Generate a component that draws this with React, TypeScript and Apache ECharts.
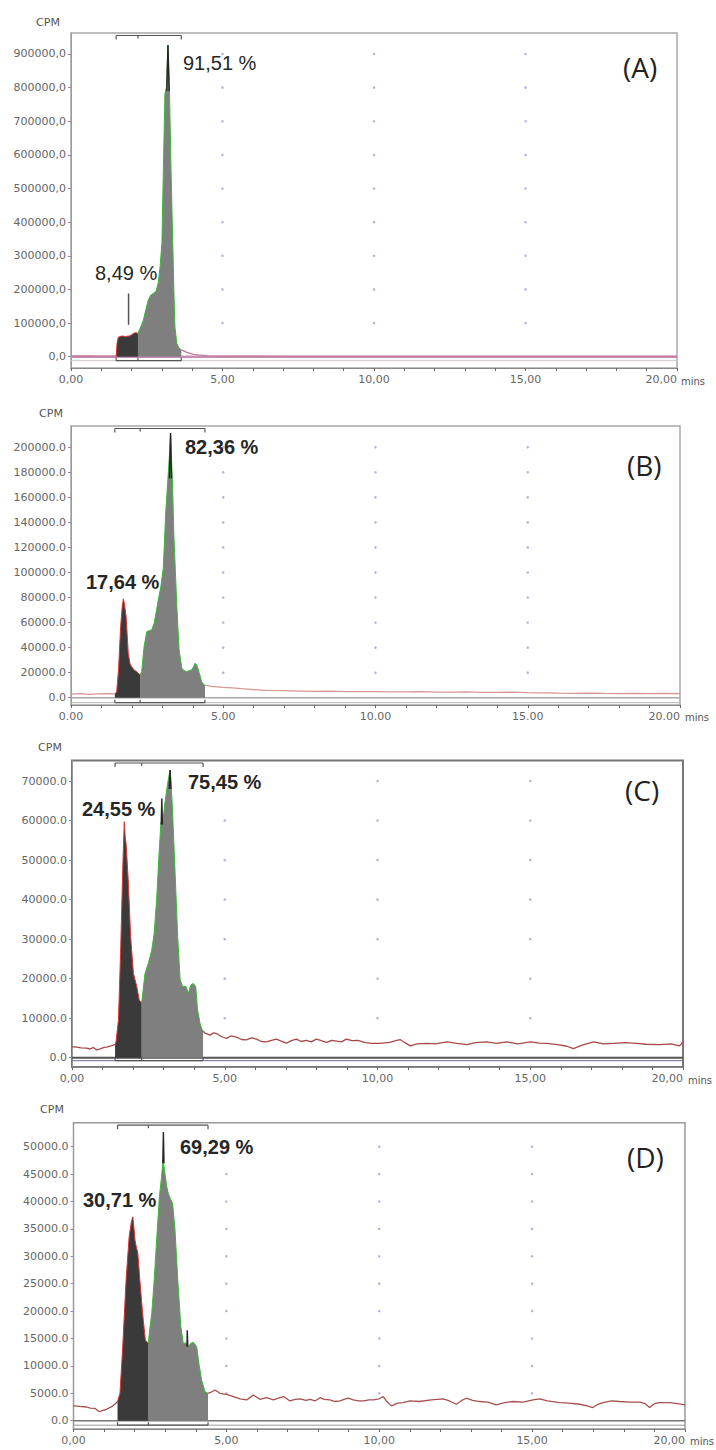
import React, { useEffect, useRef } from "react";
import * as echarts from "echarts";

type P = [number, number];

// ---------- data (time in min, CPM) ----------
const X_TICKS = [0, 5, 10, 15, 20];
const GRID_X = [5, 10, 15];
const PANEL_LETTERS = ["(A)", "(B)", "(C)", "(D)"];
const Y_UNIT = "CPM";
const X_UNIT = "mins";

// Panel A
const A_Y_TICKS = [0, 100000, 200000, 300000, 400000, 500000, 600000, 700000, 800000, 900000];
const A_PCT = ["8,49 %", "91,51 %"];
const A_BOUNDS = [1.49, 2.21, 3.64];
const A_PRE: P[] = [[0, 2000], [0.5, 2200], [1.0, 1800], [1.49, 2000]];
const A_DARK: P[] = [[1.49, 2000], [1.52, 40000], [1.56, 58000], [1.68, 61500], [1.8, 60000], [1.95, 62000], [2.02, 66000], [2.06, 70000], [2.15, 71000], [2.21, 69600]];
const A_GRAY: P[] = [[2.21, 69600], [2.3, 88000], [2.39, 109000], [2.47, 140000], [2.55, 168600], [2.63, 183000], [2.72, 188500], [2.81, 195000], [2.88, 220000], [2.94, 267600], [3.0, 337000], [3.05, 565000], [3.1, 783000], [3.15, 800000], [3.2, 926700], [3.25, 790000], [3.3, 560000], [3.36, 330000], [3.4, 180000], [3.43, 89000], [3.49, 40000], [3.55, 28000], [3.64, 20000]];
const A_POST: P[] = [[3.64, 20000], [3.7, 18000], [3.82, 13000], [4.04, 7000], [4.48, 2500], [5, 1500], [7, 1200], [10, 1000], [13, 1000], [16, 800], [20, 800]];
const A_SPIKES: P[][] = [[[3.16, 790000], [3.2, 926700], [3.24, 790000]]];
const A_POINTER: P[] = [[1.9, 95000], [1.9, 188000]];

// Panel B
const B_Y_TICKS = [0, 20000, 40000, 60000, 80000, 100000, 120000, 140000, 160000, 180000, 200000];
const B_PCT = ["17,64 %", "82,36 %"];
const B_BOUNDS = [1.44, 2.27, 4.4];
const B_PRE: P[] = [[0, 2800], [0.3, 3200], [0.6, 2600], [0.9, 3000], [1.2, 3300], [1.44, 3000]];
const B_DARK: P[] = [[1.44, 3000], [1.5, 4800], [1.56, 22000], [1.63, 56800], [1.68, 72000], [1.72, 79000], [1.76, 74000], [1.81, 64800], [1.88, 35500], [1.94, 27000], [1.99, 24800], [2.08, 22000], [2.16, 20800], [2.27, 18100]];
const B_GRAY: P[] = [[2.27, 18100], [2.32, 20800], [2.4, 40800], [2.49, 52800], [2.57, 53500], [2.65, 54100], [2.73, 59500], [2.81, 70100], [2.88, 80000], [2.95, 88700], [3.03, 103400], [3.11, 147400], [3.18, 174000], [3.24, 196700], [3.27, 211400], [3.3, 190000], [3.33, 174000], [3.38, 128700], [3.43, 100000], [3.47, 75500], [3.55, 38100], [3.64, 23500], [3.72, 21500], [3.8, 20800], [3.88, 21500], [3.96, 22100], [4.03, 25000], [4.07, 27500], [4.12, 26500], [4.15, 25000], [4.21, 20000], [4.29, 12800], [4.37, 10100], [4.4, 10000]];
const B_POST: P[] = [[4.4, 10000], [4.6, 9000], [4.8, 8600], [5.0, 8200], [5.3, 7800], [5.6, 7200], [6.0, 6500], [6.4, 5800], [7, 5600], [7.5, 5300], [8, 5000], [8.5, 5200], [9, 4800], [9.5, 4900], [10, 4800], [10.5, 4700], [11, 4600], [11.5, 4800], [12, 4500], [12.5, 4400], [13, 4700], [13.5, 4300], [14, 4200], [14.5, 4400], [15, 4000], [15.5, 3800], [16, 3600], [16.5, 3500], [17, 3700], [17.5, 3400], [18, 3300], [18.5, 3500], [19, 3300], [19.5, 3400], [20, 3200]];
const B_SPIKES: P[][] = [[[3.23, 175000], [3.27, 211400], [3.3, 175000]]];

// Panel C
const C_Y_TICKS = [0, 10000, 20000, 30000, 40000, 50000, 60000, 70000];
const C_PCT = ["24,55 %", "75,45 %"];
const C_BOUNDS = [1.41, 2.28, 4.29];
const C_PRE: P[] = [[0, 2800], [0.15, 2700], [0.3, 2500], [0.48, 2400], [0.6, 2200], [0.7, 2600], [0.81, 1950], [0.95, 2300], [1.05, 2600], [1.13, 2700], [1.25, 2900], [1.35, 3200], [1.41, 3300]];
const C_DARK: P[] = [[1.41, 3300], [1.44, 4000], [1.52, 9500], [1.59, 26400], [1.66, 47500], [1.71, 59700], [1.74, 56000], [1.77, 54200], [1.84, 45000], [1.92, 30600], [2.01, 21300], [2.12, 18000], [2.2, 14600], [2.28, 13800]];
const C_GRAY: P[] = [[2.28, 13800], [2.39, 21300], [2.5, 23900], [2.61, 27200], [2.69, 31500], [2.77, 39900], [2.85, 51700], [2.91, 59300], [2.94, 60000], [2.97, 59300], [3.04, 64400], [3.13, 69400], [3.21, 72800], [3.28, 64400], [3.37, 47500], [3.46, 30600], [3.54, 19700], [3.62, 18000], [3.73, 18000], [3.81, 16300], [3.89, 18400], [3.97, 18800], [4.05, 18000], [4.11, 12100], [4.19, 8700], [4.26, 7000], [4.29, 6800]];
const C_POST: P[] = [[4.29, 6800], [4.35, 6200], [4.52, 5700], [4.64, 6300], [4.76, 6000], [4.9, 5300], [5.06, 4900], [5.2, 5500], [5.39, 5200], [5.55, 4600], [5.71, 4500], [5.87, 5000], [6.04, 4700], [6.2, 4100], [6.37, 4000], [6.53, 4400], [6.69, 4700], [6.85, 4200], [7.02, 3700], [7.18, 4300], [7.35, 4700], [7.5, 4100], [7.67, 4400], [7.83, 4000], [8.0, 4700], [8.16, 4300], [8.33, 3900], [8.5, 4400], [8.66, 4200], [8.82, 4000], [8.98, 4700], [9.17, 4300], [9.36, 4400], [9.6, 3800], [9.8, 3600], [10.08, 3600], [10.4, 3900], [10.6, 4300], [10.74, 4600], [10.9, 3800], [11.07, 3000], [11.3, 3500], [11.62, 3600], [11.9, 3500], [12.27, 4000], [12.6, 3600], [12.93, 3300], [13.2, 3800], [13.58, 4000], [13.9, 3600], [14.23, 4000], [14.6, 3500], [15.0, 4000], [15.3, 3700], [15.54, 3600], [15.9, 3300], [16.2, 2900], [16.41, 2300], [16.7, 3200], [17.07, 4000], [17.4, 3500], [17.72, 3600], [18.1, 3800], [18.48, 3600], [18.8, 3400], [19.24, 3300], [19.6, 3500], [19.89, 3000], [20, 4000]];
const C_SPIKES: P[][] = [[[2.92, 59000], [2.94, 65600], [2.96, 59000]], [[3.18, 68000], [3.21, 72800], [3.24, 68000]]];

// Panel D
const D_Y_TICKS = [0, 5000, 10000, 15000, 20000, 25000, 30000, 35000, 40000, 45000, 50000];
const D_PCT = ["30,71 %", "69,29 %"];
const D_BOUNDS = [1.44, 2.45, 4.4];
const D_PRE: P[] = [[0, 2700], [0.2, 2600], [0.43, 2500], [0.55, 2300], [0.7, 2260], [0.8, 1800], [0.87, 1640], [0.95, 1900], [1.03, 1950], [1.15, 2300], [1.25, 2560], [1.35, 3000], [1.44, 3500]];
const D_DARK: P[] = [[1.44, 3500], [1.52, 5000], [1.61, 13500], [1.72, 25700], [1.82, 33600], [1.9, 36500], [1.94, 37200], [1.98, 35000], [2.01, 33000], [2.06, 31500], [2.1, 30800], [2.17, 25700], [2.26, 19600], [2.35, 14700], [2.45, 14100]];
const D_GRAY: P[] = [[2.45, 14100], [2.48, 16000], [2.56, 19600], [2.64, 25700], [2.72, 33000], [2.81, 40900], [2.88, 44500], [2.93, 47600], [2.97, 46000], [3.05, 42700], [3.1, 41500], [3.16, 40600], [3.24, 39700], [3.32, 34800], [3.41, 25700], [3.51, 17200], [3.59, 14100], [3.66, 14200], [3.7, 14000], [3.75, 13400], [3.83, 14100], [3.92, 14300], [4.03, 13500], [4.1, 10500], [4.19, 7400], [4.3, 5300], [4.4, 5000]];
const D_POST: P[] = [[4.4, 5000], [4.5, 5200], [4.63, 5600], [4.79, 5000], [5.01, 4800], [5.23, 4400], [5.45, 4000], [5.67, 3800], [5.88, 4700], [6.1, 3900], [6.32, 4200], [6.54, 3800], [6.7, 4100], [6.87, 4400], [7.08, 3600], [7.25, 3900], [7.41, 4000], [7.6, 3700], [7.74, 3900], [7.9, 3600], [8.06, 4200], [8.2, 3900], [8.39, 3800], [8.55, 3500], [8.72, 3600], [8.85, 3900], [8.99, 4100], [9.15, 3800], [9.32, 3600], [9.5, 3600], [9.65, 3800], [9.81, 3800], [10.0, 4000], [10.13, 4400], [10.25, 3500], [10.4, 2700], [10.6, 3200], [10.78, 3300], [11.0, 3600], [11.32, 3500], [11.7, 3800], [12.09, 4000], [12.3, 3600], [12.52, 3000], [12.7, 3700], [12.85, 4100], [13.05, 3700], [13.28, 3500], [13.55, 3400], [13.83, 2900], [14.1, 3300], [14.38, 3500], [14.7, 3400], [15.03, 3800], [15.25, 4000], [15.5, 3600], [15.9, 3300], [16.2, 3200], [16.56, 3000], [16.8, 2700], [16.99, 2400], [17.15, 3000], [17.32, 3300], [17.6, 3600], [17.86, 3500], [18.2, 3400], [18.52, 3400], [18.7, 3100], [18.84, 2400], [19.0, 3100], [19.17, 3300], [19.5, 3300], [19.75, 3100], [20, 2900]];
const D_SPIKES: P[][] = [[[2.92, 47000], [2.94, 52700], [2.96, 47000]], [[3.71, 13500], [3.72, 16500], [3.74, 13500]]];

// ---------- layout / style per panel ----------
const PANELS = [
  {
    pre: A_PRE, dark: A_DARK, gray: A_GRAY, post: A_POST, spikes: A_SPIKES, pointer: A_POINTER,
    yTicks: A_Y_TICKS, bounds: A_BOUNDS, pct: A_PCT, letter: PANEL_LETTERS[0],
    grid: { left: 71, top: 33, width: 606, height: 335 }, yMin: -33600, yMax: 962400,
    ySep: ",", xSep: ",", trace: "#c47a9a", zero: "#c98fb2", zeroW: 2.5, base2: "#cfc4cc", base2Off: 4,
    border: "#a8a8a8", borderW: 1.5, pctWeight: "normal",
    pctPos: [[95, 273], [183, 63]], letterPos: [623, 67], cpmPos: [48, 22], minsPos: [681, 381],
  },
  {
    pre: B_PRE, dark: B_DARK, gray: B_GRAY, post: B_POST, spikes: B_SPIKES, pointer: null,
    yTicks: B_Y_TICKS, bounds: B_BOUNDS, pct: B_PCT, letter: PANEL_LETTERS[1],
    grid: { left: 71, top: 426, width: 609, height: 279 }, yMin: -5830, yMax: 217000,
    ySep: ".", xSep: ".", trace: "#d69696", zero: "#a8a8a8", zeroW: 1.5, base2: "#b4b4b4", base2Off: 5,
    border: "#a8a8a8", borderW: 1.5, pctWeight: "bold",
    pctPos: [[86, 582], [185, 447]], letterPos: [627, 465], cpmPos: [51, 413], minsPos: [685, 717],
  },
  {
    pre: C_PRE, dark: C_DARK, gray: C_GRAY, post: C_POST, spikes: C_SPIKES, pointer: null,
    yTicks: C_Y_TICKS, bounds: C_BOUNDS, pct: C_PCT, letter: PANEL_LETTERS[2],
    grid: { left: 72, top: 760.5, width: 611, height: 306.5 }, yMin: -2353, yMax: 75190,
    ySep: ".", xSep: ",", trace: "#a84848", zero: "#555555", zeroW: 2, base2: "#6a6a9a", base2Off: 3,
    border: "#777777", borderW: 2, pctWeight: "bold",
    pctPos: [[82, 809], [188, 782]], letterPos: [625, 790], cpmPos: [50, 747], minsPos: [688, 1080],
  },
  {
    pre: D_PRE, dark: D_DARK, gray: D_GRAY, post: D_POST, spikes: D_SPIKES, pointer: null,
    yTicks: D_Y_TICKS, bounds: D_BOUNDS, pct: D_PCT, letter: PANEL_LETTERS[3],
    grid: { left: 73.5, top: 1122.7, width: 611.5, height: 306.3 }, yMin: -1515, yMax: 54380,
    ySep: ".", xSep: ",", trace: "#a85050", zero: "#777777", zeroW: 1.5, base2: "#999999", base2Off: 4.5,
    border: "#999999", borderW: 1.5, pctWeight: "bold",
    pctPos: [[83, 1200], [180, 1147]], letterPos: [627, 1157], cpmPos: [52, 1109], minsPos: [690, 1441],
  },
];

const SMALL_FONT = "DejaVu Sans";

function buildOption() {
  const grid: any[] = [];
  const xAxis: any[] = [];
  const yAxis: any[] = [];
  const series: any[] = [];
  const graphic: any[] = [];

  PANELS.forEach((p, i) => {
    grid.push({ ...p.grid, show: true, borderColor: p.border, borderWidth: p.borderW, backgroundColor: "#fff" });
    xAxis.push({
      type: "value", gridIndex: i, min: 0, max: 20, interval: 1,
      axisLine: { show: true, onZero: false, lineStyle: { color: "#888", width: 1 } },
      axisTick: { show: true, length: 3, lineStyle: { color: "#666" } },
      axisLabel: {
        formatter: (v: number) => (X_TICKS.includes(v) ? v.toFixed(2).replace(".", p.xSep) : ""),
        margin: 6, fontSize: 11, fontFamily: SMALL_FONT, color: "#666", alignMaxLabel: "right",
        showMinLabel: true, showMaxLabel: true,
      },
      splitLine: { show: false },
    });
    yAxis.push({
      type: "value", gridIndex: i, min: p.yMin, max: p.yMax,
      axisLine: { show: true, onZero: false, lineStyle: { color: "#999", width: 1 } },
      axisTick: { show: true, length: 3, customValues: p.yTicks, lineStyle: { color: "#8888bb" } },
      axisLabel: {
        customValues: p.yTicks,
        formatter: (v: number) => v.toFixed(1).replace(".", p.ySep),
        margin: 5, fontSize: 11, fontFamily: SMALL_FONT, color: "#666",
      },
      splitLine: { show: false },
    });

    const ax = { xAxisIndex: i, yAxisIndex: i };
    // dotted grid points
    series.push({
      type: "scatter", ...ax, silent: true, symbolSize: 2.5, z: 1,
      itemStyle: { color: "#9c9cdc" },
      data: GRID_X.flatMap((x) => p.yTicks.filter((t) => t > 0).map((t) => [x, t])),
    });
    // zero line
    series.push({
      type: "line", ...ax, silent: true, symbol: "none", z: 2,
      lineStyle: { color: p.zero, width: p.zeroW },
      data: [[0, 0], [20, 0]],
    });
    // integrated regions
    series.push({
      type: "line", ...ax, silent: true, symbol: "none", z: 3,
      lineStyle: { color: "#38b838", width: 1 },
      areaStyle: { color: "#7f7f7f", opacity: 1 },
      data: p.gray,
    });
    series.push({
      type: "line", ...ax, silent: true, symbol: "none", z: 3,
      lineStyle: { color: "#d83434", width: 1 },
      areaStyle: { color: "#3a3a3a", opacity: 1 },
      data: p.dark,
    });
    // trace outside regions
    [p.pre, p.post].forEach((d) =>
      series.push({
        type: "line", ...ax, silent: true, symbol: "none", z: 4,
        lineStyle: { color: p.trace, width: 1.3 },
        data: d,
      })
    );
    // dark spike tips
    p.spikes.forEach((d) =>
      series.push({
        type: "line", ...ax, silent: true, symbol: "none", z: 5,
        lineStyle: { color: "#262626", width: 1.4 },
        data: d,
      })
    );
    if (p.pointer) {
      series.push({
        type: "line", ...ax, silent: true, symbol: "none", z: 5,
        lineStyle: { color: "#555", width: 1.5 },
        data: p.pointer,
      });
    }
    // brackets + secondary baseline
    series.push({
      type: "custom", ...ax, silent: true, clip: false, z: 6,
      data: [p.bounds],
      renderItem: (params: any, api: any) => {
        const cs = params.coordSys;
        const x1 = api.coord([api.value(0), 0])[0];
        const x2 = api.coord([api.value(1), 0])[0];
        const x3 = api.coord([api.value(2), 0])[0];
        const zy = api.coord([0, 0])[1];
        const top = cs.y + 2.5;
        const b = zy + p.base2Off;
        const st = { stroke: "#555", lineWidth: 1.2 };
        const ln = (a: number, c: number, d: number, e: number, style: any) => ({
          type: "line", shape: { x1: a, y1: c, x2: d, y2: e }, style,
        });
        return {
          type: "group",
          children: [
            ln(cs.x, b, cs.x + cs.width, b, { stroke: p.base2, lineWidth: 1 }),
            ln(x1, top, x3, top, st),
            ln(x1, top, x1, top + 4, st),
            ln(x2, top, x2, top + 3, st),
            ln(x3, top, x3, top + 4, st),
            ln(x1, b, x3, b, st),
            ln(x1, b, x1, b - 3, st),
            ln(x2, b, x2, b - 3, st),
            ln(x3, b, x3, b - 3, st),
          ],
        };
      },
    });

    // texts
    p.pct.forEach((t, k) =>
      graphic.push({
        type: "text", x: p.pctPos[k][0], y: p.pctPos[k][1], z: 100,
        style: {
          text: t, fill: "#262626", fontSize: 20, fontWeight: p.pctWeight,
          fontFamily: "Liberation Sans", align: "left", verticalAlign: "middle",
        },
      })
    );
    graphic.push({
      type: "text", x: p.letterPos[0], y: p.letterPos[1], z: 100,
      style: { text: p.letter, fill: "#222", fontSize: 28, fontFamily: "Open Sans", align: "left", verticalAlign: "middle" },
    });
    graphic.push({
      type: "text", x: p.cpmPos[0], y: p.cpmPos[1], z: 100,
      style: { text: Y_UNIT, fill: "#555", fontSize: 11, fontFamily: SMALL_FONT, align: "center", verticalAlign: "middle" },
    });
    graphic.push({
      type: "text", x: p.minsPos[0], y: p.minsPos[1], z: 100,
      style: { text: X_UNIT, fill: "#555", fontSize: 10, fontFamily: SMALL_FONT, align: "left", verticalAlign: "middle" },
    });
  });

  return { animation: false, backgroundColor: "#fff", grid, xAxis, yAxis, series, graphic };
}

export default function App() {
  const ref = useRef<HTMLDivElement>(null);
  useEffect(() => {
    if (!ref.current) return;
    const chart = echarts.init(ref.current, undefined, { renderer: "svg" });
    chart.setOption(buildOption() as any);
    return () => chart.dispose();
  }, []);
  return (
    <div
      ref={ref}
      style={{ position: "absolute", left: 0, top: 0, width: 716, height: 1450, background: "#fff" }}
    />
  );
}
